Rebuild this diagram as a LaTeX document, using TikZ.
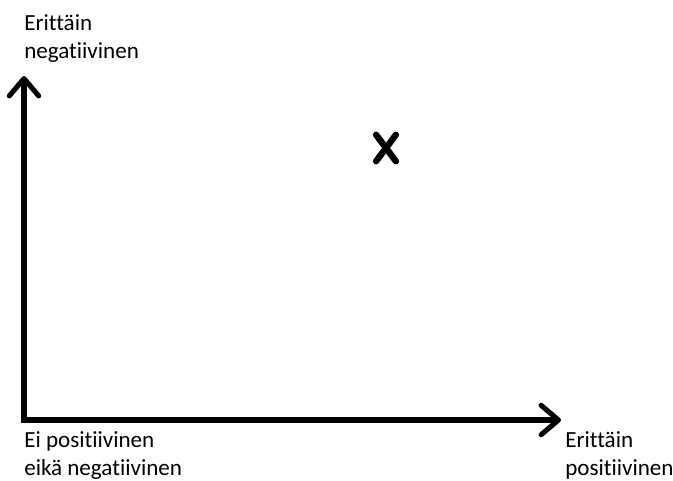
\documentclass[tikz,border=0pt]{standalone}
\usepackage{fontspec}
\setmainfont{Carlito}[Ligatures=NoCommon]
\usetikzlibrary{arrows.meta,shapes.misc}

\begin{document}
\begin{tikzpicture}[
    x=0.75pt, y=-0.75pt,
    akseli/.style={line width=3.8pt, line join=miter,
      {Straight Barb[length=13pt,width=22pt,round]}-{Straight Barb[length=13pt,width=22pt,round]}},
    risti/.style={cross out, draw, line width=4.8pt, line cap=round,
      minimum width=10pt, minimum height=15pt, inner sep=0pt},
    teksti/.style={align=left, inner sep=0pt, anchor=north west,
      font=\fontsize{17.3}{21}\selectfont}
  ]
    \useasboundingbox (0,0) rectangle (673,480);

    % Axes
    \coordinate (origo) at (24,420);
    \coordinate (ylos) at (24,76);
    \coordinate (oikea) at (561,420);
    \draw[akseli] (ylos) -- (origo) -- (oikea);

    % Point
    \node[risti] (piste) at (386,148) {};

    % Labels
    \node[teksti] (ylaotsikko) at (24,14) {Erittäin\\negatiivinen};
    \node[teksti] (origootsikko) at (24,431) {Ei positiivinen\\eikä negatiivinen};
    \node[teksti] (oikeaotsikko) at (565,431) {Erittäin\\positiivinen};

  \end{tikzpicture}
\end{document}
